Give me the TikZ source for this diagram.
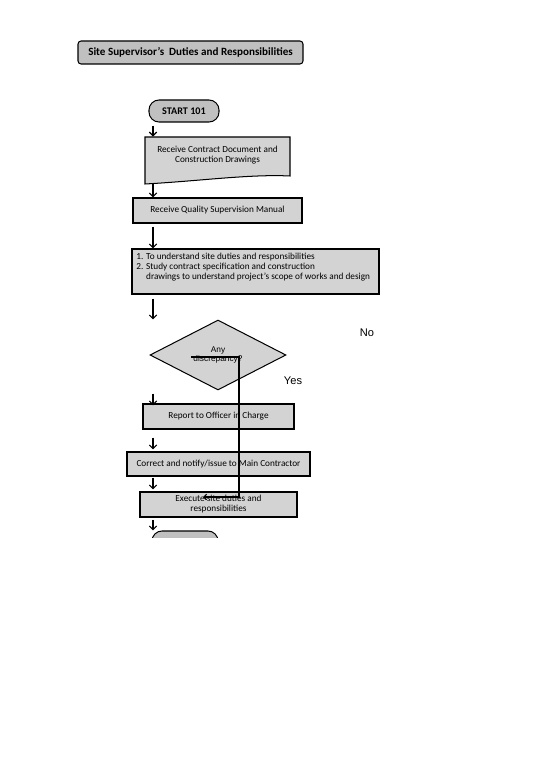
\documentclass[tikz,border=0pt]{standalone}
\usepackage{fontspec}
\setmainfont{Carlito}
\newfontfamily\arialfont{Liberation Sans}
\usetikzlibrary{arrows.meta,shapes.geometric}
\newlength\pxu
\setlength\pxu{1.082pt}
\definecolor{boxgray}{RGB}{211,211,211}
\definecolor{titlegray}{RGB}{192,192,192}
\tikzset{every picture/.style={line width=0.75pt}}
\tikzset{
	flowbox/.style={draw, line width=1.1pt, fill=boxgray, inner sep=0pt, font=\fontsize{10}{10.8}\selectfont, align=center},
	termbox/.style={flowbox, fill=titlegray, rounded corners=10\pxu, font=\bfseries\fontsize{11}{12}\selectfont},
	flowarrow/.style={line width=1.3pt, -{Straight Barb[length=4pt,width=8pt]}}}

\begin{document}
\begin{tikzpicture}[x=1.082pt,y=1.082pt,yscale=-1,xscale=1]
	\useasboundingbox (0,0) rectangle (550,777);
	\coordinate (col) at (153,0);

	%Shape: Title box
	\node[termbox, rounded corners=3\pxu, minimum width=225\pxu, minimum height=23\pxu, font=\bfseries\fontsize{12}{14}\selectfont] (title) at (190.5,52.5) {Site Supervisor's\ \ Duties and Responsibilities};
	%Shape: Start terminal
	\node[termbox, minimum width=70\pxu, minimum height=22\pxu] (start) at (184,111) {START 101};
	%Shape: Document
	\draw[line width=1.1pt, fill=boxgray] (145,137) -- (290,137) -- (290,176) .. controls (250,174) and (200,181) .. (145,184) -- cycle;
	\node[inner sep=0pt, minimum width=145\pxu, minimum height=36\pxu, font=\fontsize{10}{10.8}\selectfont, align=center] (doc) at (217.5,155) {Receive Contract Document and\\Construction Drawings};
	%Shape: Process boxes
	\node[flowbox, minimum width=169\pxu, minimum height=25\pxu] (quality) at (217.5,210.5) {Receive Quality Supervision Manual};
	\node[flowbox, minimum width=247\pxu, minimum height=45\pxu] (tasks) at (255.5,271.5) {};
	\node[anchor=north west, inner sep=0pt, align=left, font=\fontsize{10}{10.8}\selectfont] (taskstext) at (136,253) {1. To understand site duties and responsibilities\\2. Study contract specification and construction\\\phantom{2. }drawings to understand project's scope of works and design};
	%Shape: Decision
	\node[diamond, draw, line width=1.1pt, fill=boxgray, minimum width=136\pxu, minimum height=70\pxu, inner sep=0pt, font=\arialfont\fontsize{9}{10.8}\selectfont, align=center] (check) at (218,355) {Any\\discrepancy?};
	\node[flowbox, minimum width=151\pxu, minimum height=25\pxu] (report) at (218.5,416.5) {Report to Officer in Charge};
	\node[flowbox, minimum width=183\pxu, minimum height=24\pxu] (correct) at (218.5,464) {Correct and notify/issue to Main Contractor};
	\node[flowbox, minimum width=157\pxu, minimum height=25\pxu] (execute) at (218.5,504.5) {Execute site duties and\\responsibilities};
	%Shape: End terminal (cut at page edge)
	\begin{scope}
		\clip (0,0) rectangle (550,537);
		\node[termbox, minimum width=66\pxu, minimum height=22\pxu] (finish) at (185,542) {};
	\end{scope}

	% Text Node
	\node[font=\arialfont\fontsize{12}{14}\selectfont] (no) at (367,333) {No};
	% Text Node
	\node[font=\arialfont\fontsize{12}{14}\selectfont] (yes) at (293,381) {Yes};

	%Straight Lines
	\draw[flowarrow, shorten <=3\pxu] (start.south -| col) -- (doc.north -| col);
	\draw[flowarrow, shorten <=10\pxu] (doc.south -| col) -- (quality.north -| col);
	\draw[flowarrow, shorten <=3\pxu] (quality.south -| col) -- (tasks.north -| col);
	\draw[flowarrow, shorten <=4\pxu] (tasks.south -| col) -- (check.north -| col);
	\draw[flowarrow, shorten <=3\pxu, shorten >=-2\pxu] (check.south -| col) -- (report.north -| col);
	\draw[flowarrow, shorten <=8\pxu, shorten >=2\pxu] (report.south -| col) -- (correct.north -| col);
	\draw[flowarrow, shorten <=1\pxu, shorten >=2\pxu] (correct.south -| col) -- (execute.north -| col);
	\draw[flowarrow, shorten <=2\pxu] (execute.south -| col) -- (finish.north -| col);
	%Connector across the chart
	\coordinate (loopin) at (191,357);
	\coordinate (loopout) at (203,497);
	\draw[line width=1.3pt, -{Straight Barb[length=3pt,width=6pt]}] (loopin) -- ++(48,0) |- (loopout);

\end{tikzpicture}
\end{document}
